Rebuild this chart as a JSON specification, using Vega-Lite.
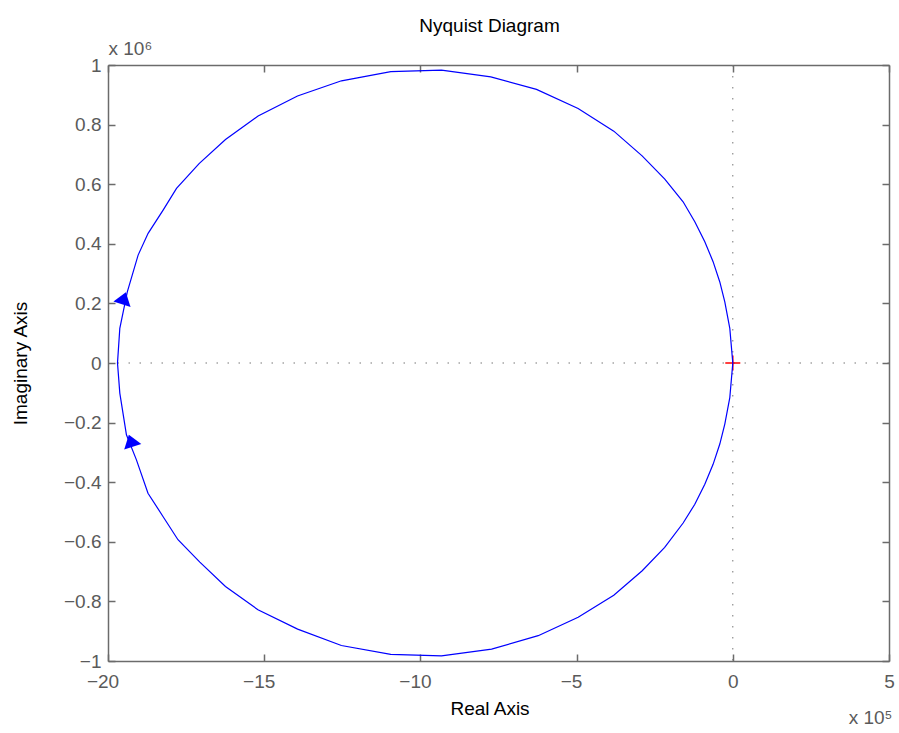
{
  "$schema": "https://vega.github.io/schema/vega-lite/v6.json",
  "width": 781,
  "height": 596,
  "autosize": {"type": "none"},
  "padding": {"left": 108, "top": 65, "right": 10, "bottom": 72},
  "background": "white",
  "title": {"text": "Nyquist Diagram", "anchor": "middle", "fontSize": 19, "fontWeight": "normal", "color": "#000000", "baseline": "alphabetic", "offset": -12, "dx": -9},
  "config": {
    "font": "Liberation Sans",
    "view": {"stroke": null},
    "axis": {
      "grid": false,
      "domainColor": "#6b6b6b",
      "domainWidth": 1.5,
      "tickColor": "#6b6b6b",
      "tickWidth": 1.5,
      "tickSize": -7,
      "labelColor": "#5a5a5a",
      "labelFontSize": 19,
      "labelFont": "Liberation Sans",
      "labelOverlap": false,
      "labelBound": false,
      "labelFlush": false,
      "titleFontSize": 19,
      "titleFont": "Liberation Sans",
      "titleFontWeight": "normal",
      "titleColor": "#000000"
    }
  },
  "datasets": {
    "curve": [
      {"i": 0, "re": 0, "im": 0},
      {"i": 1, "re": -9600, "im": 116000},
      {"i": 2, "re": -25600, "im": 205000},
      {"i": 3, "re": -41600, "im": 272000},
      {"i": 4, "re": -63100, "im": 340000},
      {"i": 5, "re": -89600, "im": 407000},
      {"i": 6, "re": -121600, "im": 474000},
      {"i": 7, "re": -159100, "im": 541000},
      {"i": 8, "re": -217700, "im": 617000},
      {"i": 9, "re": -290300, "im": 695000},
      {"i": 10, "re": -380900, "im": 778000},
      {"i": 11, "re": -495200, "im": 854000},
      {"i": 12, "re": -628400, "im": 918000},
      {"i": 13, "re": -774600, "im": 960000},
      {"i": 14, "re": -932500, "im": 983000},
      {"i": 15, "re": -1094800, "im": 978000},
      {"i": 16, "re": -1252600, "im": 947000},
      {"i": 17, "re": -1393400, "im": 896000},
      {"i": 18, "re": -1519500, "im": 829000},
      {"i": 19, "re": -1623900, "im": 750000},
      {"i": 20, "re": -1708400, "im": 669000},
      {"i": 21, "re": -1780700, "im": 586000},
      {"i": 22, "re": -1823600, "im": 513000},
      {"i": 23, "re": -1871600, "im": 435000},
      {"i": 24, "re": -1903600, "im": 362000},
      {"i": 25, "re": -1938200, "im": 239000},
      {"i": 26, "re": -1962200, "im": 116000},
      {"i": 27, "re": -1969600, "im": 0},
      {"i": 28, "re": -1962200, "im": -101000},
      {"i": 29, "re": -1941000, "im": -241000},
      {"i": 30, "re": -1909000, "im": -325000},
      {"i": 31, "re": -1872000, "im": -437000},
      {"i": 32, "re": -1824000, "im": -515000},
      {"i": 33, "re": -1776000, "im": -593000},
      {"i": 34, "re": -1706000, "im": -668000},
      {"i": 35, "re": -1624000, "im": -750000},
      {"i": 36, "re": -1520000, "im": -828000},
      {"i": 37, "re": -1393000, "im": -893000},
      {"i": 38, "re": -1253000, "im": -948000},
      {"i": 39, "re": -1095000, "im": -978000},
      {"i": 40, "re": -932500, "im": -983000},
      {"i": 41, "re": -772000, "im": -960000},
      {"i": 42, "re": -623000, "im": -915000},
      {"i": 43, "re": -495000, "im": -853000},
      {"i": 44, "re": -381000, "im": -779000},
      {"i": 45, "re": -290000, "im": -697000},
      {"i": 46, "re": -218000, "im": -619000},
      {"i": 47, "re": -159000, "im": -537000},
      {"i": 48, "re": -121600, "im": -474000},
      {"i": 49, "re": -89600, "im": -407000},
      {"i": 50, "re": -63100, "im": -340000},
      {"i": 51, "re": -41600, "im": -272000},
      {"i": 52, "re": -25600, "im": -205000},
      {"i": 53, "re": -9600, "im": -116000},
      {"i": 54, "re": 0, "im": 0}
    ]
  },
  "layer": [
    {
      "data": {"values": [{"v": 0}]},
      "mark": {"type": "rule", "color": "#777777", "strokeWidth": 1, "strokeDash": [1.5, 9.5]},
      "encoding": {
        "y": {"field": "v", "type": "quantitative", "axis": null}
      }
    },
    {
      "data": {"values": [{"v": 0}]},
      "mark": {"type": "rule", "color": "#777777", "strokeWidth": 1, "strokeDash": [1.5, 9.5]},
      "encoding": {
        "x": {"field": "v", "type": "quantitative", "axis": null}
      }
    },
    {
      "data": {"values": [{"re": 0, "im": 0}]},
      "mark": {"type": "point", "shape": "M-1,0L1,0M0,-1L0,1", "size": 225, "filled": false, "color": "#ff0000", "strokeWidth": 1.5, "opacity": 1},
      "encoding": {
        "x": {
          "field": "re", "type": "quantitative",
          "axis": {
            "orient": "top",
            "values": [-2000000, -1500000, -1000000, -500000, 0, 500000],
            "labels": false,
            "title": "x 10⁶",
            "titleColor": "#5a5a5a",
            "titleAngle": 0,
            "titleX": 0,
            "titleY": -11,
            "titleAlign": "left",
            "titleBaseline": "alphabetic"
          }
        },
        "y": {
          "field": "im", "type": "quantitative",
          "axis": {
            "orient": "right",
            "values": [-1000000, -800000, -600000, -400000, -200000, 0, 200000, 400000, 600000, 800000, 1000000],
            "labels": false,
            "title": "x 10⁵",
            "titleColor": "#5a5a5a",
            "titleAngle": 0,
            "titleX": 3,
            "titleY": 658,
            "titleAlign": "right",
            "titleBaseline": "alphabetic"
          }
        }
      }
    },
    {
      "data": {"name": "curve"},
      "mark": {"type": "line", "color": "#0000ff", "strokeWidth": 1.2, "clip": false},
      "encoding": {
        "x": {
          "field": "re", "type": "quantitative",
          "scale": {"domain": [-2000000, 500000], "nice": false, "zero": false},
          "axis": {
            "orient": "bottom",
            "values": [-2000000, -1500000, -1000000, -500000, 0, 500000],
            "labelExpr": "format(datum.value / 100000, '~g')",
            "labelPadding": 18,
            "labelOffset": {"condition": {"test": "datum.value < 0", "value": -5.5}, "value": 0},
            "title": "Real Axis",
            "titleX": 381.5,
            "titleY": 53,
            "titleAlign": "center",
            "titleBaseline": "alphabetic"
          }
        },
        "y": {
          "field": "im", "type": "quantitative",
          "scale": {"domain": [-1000000, 1000000], "nice": false, "zero": false},
          "axis": {
            "orient": "left",
            "values": [-1000000, -800000, -600000, -400000, -200000, 0, 200000, 400000, 600000, 800000, 1000000],
            "labelExpr": "format(datum.value / 1000000, '~g')",
            "labelPadding": 14,
            "title": "Imaginary Axis",
            "titleAngle": -90,
            "titleX": -82,
            "titleY": 298,
            "titleAlign": "center",
            "titleBaseline": "alphabetic"
          }
        },
        "order": {"field": "i", "type": "quantitative"}
      }
    },
    {
      "data": {"values": [{"re": -1949000, "im": 217000}]},
      "mark": {"type": "point", "shape": "M0,-0.7L-1,0.7L1,0.7Z", "size": 324, "filled": true, "color": "#0000ff", "opacity": 1, "angle": 18},
      "encoding": {
        "x": {"field": "re", "type": "quantitative", "axis": null},
        "y": {"field": "im", "type": "quantitative", "axis": null}
      }
    },
    {
      "data": {"values": [{"re": -1927000, "im": -261000}]},
      "mark": {"type": "point", "shape": "M0,-0.7L-1,0.7L1,0.7Z", "size": 324, "filled": true, "color": "#0000ff", "opacity": 1, "angle": 342},
      "encoding": {
        "x": {"field": "re", "type": "quantitative", "axis": null},
        "y": {"field": "im", "type": "quantitative", "axis": null}
      }
    }
  ],
  "resolve": {"axis": {"x": "independent", "y": "independent"}}
}
